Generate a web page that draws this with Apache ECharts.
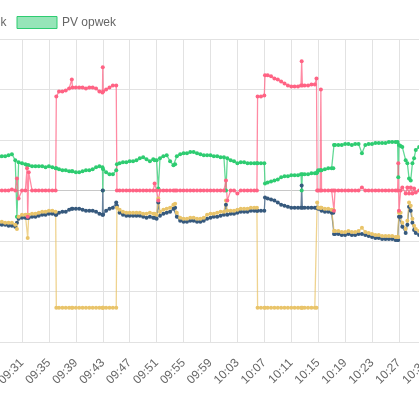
<!DOCTYPE html>
<html>
<head>
<meta charset="utf-8">
<script src="https://cdn.jsdelivr.net/npm/echarts@6/dist/echarts.min.js"></script>
<style>
html, body { margin:0; padding:0; width:419px; height:410px; overflow:hidden; background:#fff; }
#chart { position:absolute; left:-300px; top:0; width:770px; height:410px; }
</style>
</head>
<body>
<div id="chart"></div>
<script>
// tijdstip in minuten na 09:00
var tijden = [
  27.5,28,28.5,29,29.5,30,30.25,30.5,31,31.5,
  31.75,31.85,32,32.5,33,33.5,34,34.5,35,35.5,
  36,36.1,36.5,37,37.5,38,38.4,38.5,39,39.5,
  40,40.5,41,41.5,42,42.5,42.95,43,43.05,43.5,
  44,44.5,45,45.1,45.5,46,46.5,47,47.5,48,
  48.5,49,49.5,50,50.5,50.7,51,51.25,51.5,52,
  52.5,53,53.5,53.75,54,54.5,55,55.5,56,56.5,
  57,57.5,58,58.5,59,59.5,60,60.5,61,61.3,
  61.5,62,62.5,63,63.5,64,64.5,65,65.5,65.9,
  66,66.5,67,67.1,67.5,68,68.5,69,69.5,70,
  70.5,71,71.5,72,72.45,72.55,72.65,73,73.5,74,
  74.5,74.75,74.85,75,75.3,75.4,75.5,76,76.5,77,
  77.25,77.35,77.5,78,78.5,79,79.5,80,80.5,81,
  81.5,82,82.5,83,83.5,84,84.5,85,85.5,86,
  86.5,86.8,86.9,87,87.25,87.5,88,88.25,88.5,88.75,
  89,89.25,89.5,90,90.5
];

// vermogen in W
var pvOpwek = [
  660,680,680,700,720,600,-520,560,540,520,
  500,500,500,480,480,480,480,460,480,460,
  440,440,420,400,400,380,380,380,360,360,
  380,400,400,420,460,480,460,0,420,360,
  320,320,400,520,540,560,560,580,580,600,
  640,660,620,580,620,600,600,40,640,680,
  700,580,500,520,680,720,740,740,760,760,
  740,720,700,700,700,680,680,660,660,0,
  640,600,580,540,560,560,540,540,540,540,
  540,540,540,140,160,180,200,220,260,280,
  280,300,300,300,320,0,320,320,320,340,
  340,340,360,400,400,400,400,420,440,440,
  440,900,900,900,900,920,920,900,920,920,
  740,900,920,920,940,940,940,940,960,960,
  960,960,260,900,880,860,600,540,240,200,
  540,640,800,860,800
];

var verbruik = [
  -680,-680,-680,-700,-700,-720,-640,-560,-540,-540,
  -540,-540,-540,-520,-520,-500,-480,-480,-460,-460,
  -480,-480,-440,-420,-420,-380,-360,-360,-360,-360,
  -380,-400,-400,-400,-420,-460,-480,0,-480,-400,
  -360,-340,-240,-300,-440,-480,-500,-500,-500,-500,
  -500,-520,-540,-520,-540,-540,-560,-240,-500,-460,
  -440,-420,-360,-340,-520,-600,-620,-620,-600,-600,
  -620,-620,-600,-560,-540,-520,-520,-500,-480,-280,
  -480,-460,-460,-440,-420,-420,-420,-400,-400,-400,
  -400,-400,-400,-140,-160,-180,-200,-240,-280,-300,
  -320,-340,-340,-340,-340,100,-340,-340,-340,-340,
  -340,-340,-340,-360,-360,-360,-400,-420,-420,-440,
  -440,-860,-860,-860,-880,-880,-860,-880,-880,-860,
  -860,-880,-900,-920,-940,-940,-960,-960,-960,-960,
  -980,-980,-980,-520,-520,-720,-840,-680,-320,-400,
  -640,-780,-840,-880,-840
];

var batterij = [
  -620,-620,-640,-640,-640,-680,-760,-520,-480,-480,
  -480,-940,-480,-460,-460,-440,-420,-420,-400,-400,
  -420,-2320,-2320,-2320,-2320,-2320,-2320,-2320,-2320,-2320,
  -2320,-2320,-2320,-2320,-2320,-2320,-2320,-2320,-2320,-2320,
  -2320,-2320,-2320,-340,-380,-420,-440,-440,-440,-440,
  -440,-460,-460,-440,-460,-460,-480,-160,-420,-380,
  -360,-340,-280,-260,-440,-540,-560,-560,-540,-540,
  -560,-560,-540,-480,-460,-460,-440,-420,-420,-200,
  -400,-400,-400,-380,-360,-360,-360,-340,-340,-340,
  -2320,-2320,-2320,-2320,-2320,-2320,-2320,-2320,-2320,-2320,
  -2320,-2320,-2320,-2320,-2320,-2320,-2320,-2320,-2320,-2320,
  -2320,-2320,-240,-340,-340,-340,-340,-360,-360,-380,
  -380,-800,-800,-800,-820,-820,-800,-820,-820,-800,
  -740,-820,-840,-860,-880,-880,-900,-900,-900,-900,
  -920,-920,-920,-440,-440,-640,-760,-600,-240,-300,
  -560,-700,-760,-800,-760
];

var net = [
  0,0,0,0,20,0,240,-160,0,0,
  440,-520,360,0,0,0,0,0,0,0,
  0,1860,1960,1960,1980,2020,2200,2040,2040,2040,
  2040,2020,2040,2040,2020,1960,1940,2440,1960,2000,
  2040,2080,2080,0,0,0,0,0,0,0,
  0,0,0,0,0,140,0,-200,0,0,
  0,0,0,0,0,0,0,0,0,0,
  0,0,0,0,0,0,0,0,0,200,
  -200,0,0,-60,0,0,0,0,0,0,
  1860,1860,1880,2280,2280,2260,2220,2200,2160,2120,
  2080,2060,2060,2060,2080,2560,2080,2080,2080,2100,
  2100,2220,0,0,0,2000,0,0,0,0,
  0,-400,0,0,0,0,0,0,0,0,
  60,0,0,0,0,0,0,0,0,0,
  0,0,540,-400,0,60,-60,60,-60,60,
  -60,40,-40,0,0
];

[pvOpwek, verbruik, batterij, net].forEach(function (a) {
  if (a.length !== tijden.length) throw new Error('lengte ' + a.length + ' != ' + tijden.length);
});

var namen = ['Net', 'Batterij', 'Verbruik', 'PV opwek'];
var kleuren = {
  'Net':      '#ff6384',
  'Batterij': '#e9c46a',
  'Verbruik': '#36597d',
  'PV opwek': '#2ecc71'
};
var vullingen = {
  'Net':      'rgba(255,99,132,0.5)',
  'Batterij': 'rgba(233,196,106,0.5)',
  'Verbruik': 'rgba(54,89,125,0.5)',
  'PV opwek': 'rgba(46,204,113,0.5)'
};

var font = 'Liberation Sans, Arial, Helvetica, sans-serif';

// legenda zo plaatsen dat het vak van 'PV opwek' op x=315 (div) begint
var ctx = document.createElement('canvas').getContext('2d');
ctx.font = '12px ' + font;
var legendaLinks = 315;
for (var i = 0; i < namen.length - 1; i++) {
  legendaLinks -= 40 + 5 + ctx.measureText(namen[i]).width + 10;
}

function pad(n) { return (n < 10 ? '0' : '') + n; }
function punten(a) { return tijden.map(function (t, i) { return [t, a[i]]; }); }
function lijn(naam, a) {
  return {
    name: naam,
    type: 'line',
    data: punten(a),
    symbol: 'circle',
    symbolSize: 4,
    showSymbol: true,
    itemStyle: { color: kleuren[naam] },
    lineStyle: { color: kleuren[naam], width: 1.3, opacity: 0.75 },
    emphasis: { disabled: true }
  };
}

var myChart = echarts.init(document.getElementById('chart'));
var option = {
  animation: false,
  legend: {
    left: legendaLinks, top: 16, padding: 0,
    itemWidth: 40, itemHeight: 12, itemGap: 10,
    icon: 'rect', selectedMode: false,
    textStyle: { color: '#666', fontSize: 12, fontFamily: font },
    data: namen.map(function (n) {
      return { name: n, itemStyle: { color: vullingen[n], borderColor: kleuren[n], borderWidth: 1 } };
    })
  },
  grid: { left: 295.07, right: 37.4, top: 39, bottom: 68 },
  xAxis: {
    type: 'value',
    min: 27, max: 92, interval: 4,
    axisLine: { lineStyle: { color: '#c8c8c8' } },
    axisTick: { length: 8, lineStyle: { color: '#e2e2e2' } },
    splitLine: { show: true, lineStyle: { color: '#e2e2e2' } },
    axisLabel: {
      rotate: 45, margin: 19, color: '#666', fontSize: 12, fontFamily: font,
      showMaxLabel: false,
      formatter: function (v) { return pad(9 + Math.floor(v / 60)) + ':' + pad(v % 60); }
    }
  },
  yAxis: {
    type: 'value',
    min: -3000, max: 3000, interval: 1000,
    axisLine: { show: true, lineStyle: { color: '#c8c8c8' } },
    splitLine: { lineStyle: { color: '#e2e2e2' } },
    axisLabel: { color: '#666', fontSize: 12, fontFamily: font }
  },
  series: [
    lijn('PV opwek', pvOpwek),
    lijn('Verbruik', verbruik),
    lijn('Batterij', batterij),
    lijn('Net', net)
  ]
};
myChart.setOption(option);
</script>
</body>
</html>
